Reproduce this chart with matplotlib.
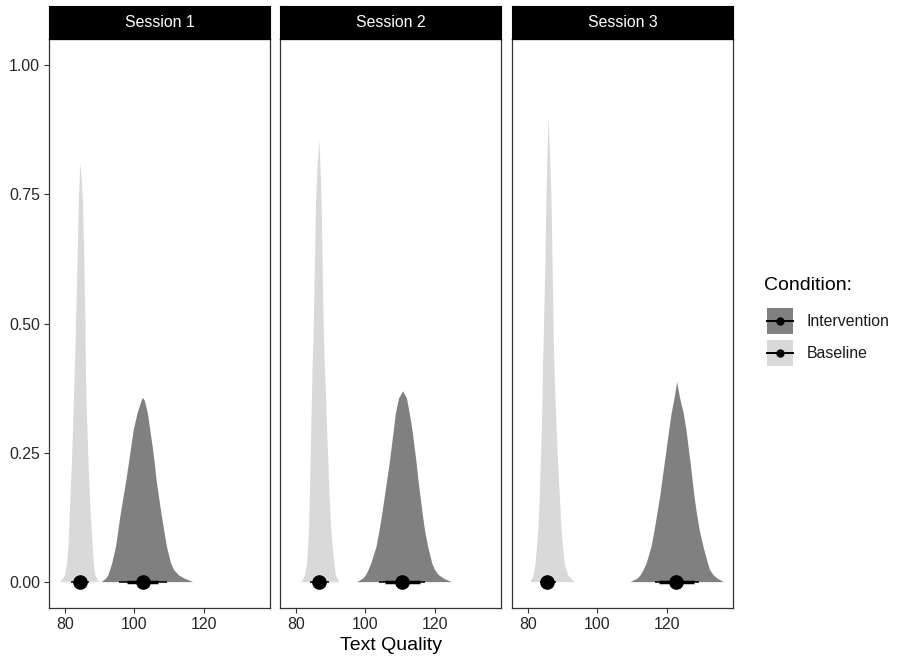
import matplotlib.pyplot as plt
from matplotlib.patches import Rectangle

plt.rcParams['font.family'] = ['Liberation Sans', 'DejaVu Sans']

sessions = ["Session 1", "Session 2", "Session 3"]
conditions = ["Intervention", "Baseline"]
fill_colors = {"Intervention": "#808080", "Baseline": "#d9d9d9"}

# density outlines: height levels and the left / right
# edge (text quality) of each curve at those levels, last level = peak
base_common = [0, 0.007, 0.0135, 0.023, 0.036, 0.068, 0.10, 0.165, 0.229, 0.293, 0.358, 0.422, 0.486, 0.61, 0.737]
base_levels = [
    base_common + [0.782, 0.811],
    base_common + [0.80, 0.855],
    base_common + [0.82, 0.90],
]
base_left = [
    [78.55, 79.5, 80.0, 80.3, 80.6, 81.0, 81.2, 81.6, 82.0, 82.3, 82.6, 82.9, 83.15, 83.6, 84.0, 84.25, 84.4],
    [81.4, 82.2, 82.6, 82.9, 83.2, 83.5, 83.75, 84.0, 84.2, 84.4, 84.6, 84.8, 85.1, 85.45, 85.8, 86.2, 86.75],
    [80.7, 81.3, 81.65, 81.9, 82.2, 82.6, 83.0, 83.4, 83.7, 84.0, 84.2, 84.35, 84.6, 85.0, 85.3, 85.6, 85.9],
]
base_right = [
    [89.8, 89.2, 88.8, 88.5, 88.3, 88.0, 87.7, 87.2, 86.8, 86.5, 86.2, 86.0, 85.95, 85.6, 85.2, 84.8, 84.4],
    [92.5, 91.9, 91.5, 91.3, 91.1, 90.6, 90.2, 89.7, 89.35, 89.0, 88.7, 88.3, 88.0, 87.7, 87.4, 87.1, 86.75],
    [93.5, 92.4, 91.6, 91.1, 90.6, 90.1, 89.7, 89.2, 88.7, 88.3, 87.9, 87.6, 87.4, 87.1, 86.8, 86.4, 85.9],
]

int_common = [0, 0.007, 0.0135, 0.023, 0.036, 0.068, 0.10, 0.133, 0.165, 0.197, 0.229, 0.261, 0.293, 0.326]
int_levels = [
    int_common + [0.351, 0.356],
    int_common + [0.355, 0.369],
    int_common + [0.357, 0.387],
]
int_left = [
    [90.6, 91.9, 92.5, 93.0, 93.6, 94.7, 95.4, 96.1, 96.9, 97.7, 98.4, 99.1, 99.8, 100.9, 102.1, 102.5],
    [97.6, 99.4, 100.2, 100.9, 101.7, 103.2, 104.1, 104.9, 105.6, 106.3, 107.0, 107.6, 108.2, 108.8, 109.7, 110.9],
    [109.6, 111.6, 112.5, 113.3, 114.2, 115.6, 116.5, 117.3, 118.1, 118.75, 119.4, 120.05, 120.7, 121.4, 122.3, 123.0],
]
int_right = [
    [117.0, 114.4, 112.8, 111.5, 110.6, 109.4, 108.6, 107.8, 107.1, 106.4, 105.9, 105.3, 104.6, 103.9, 103.0, 102.5],
    [124.9, 122.6, 121.2, 120.1, 119.3, 118.1, 117.2, 116.5, 115.9, 115.3, 114.8, 114.2, 113.6, 112.8, 112.0, 110.9],
    [136.5, 134.6, 133.5, 132.5, 131.9, 130.6, 129.5, 128.7, 128.0, 127.45, 126.9, 126.3, 125.7, 124.9, 123.8, 123.0],
]

# point intervals: median, 66% and 95% intervals
base_med = [84.2, 86.6, 85.6]
base_lo66 = [82.9, 85.1, 84.4]
base_hi66 = [85.6, 88.2, 87.0]
base_lo95 = [81.6, 84.1, 83.4]
base_hi95 = [86.8, 89.5, 88.0]
int_med = [102.4, 110.6, 122.8]
int_lo66 = [98.0, 105.7, 117.8]
int_hi66 = [106.9, 115.8, 128.0]
int_lo95 = [95.7, 104.0, 116.6]
int_hi95 = [109.3, 117.2, 129.4]

x_ticks = [80, 100, 120]
y_ticks = [0.0, 0.25, 0.50, 0.75, 1.00]

W, H = 898, 658
fig = plt.figure(figsize=(W / 100, H / 100), dpi=100)


def frac(x0, y0, w, h):
    return [x0 / W, 1 - (y0 + h) / H, w / W, h / H]


def outline(levels, left, right):
    # closed shape: up the left edge, down the right edge
    return left + right[::-1], levels + levels[::-1]


lefts = [49, 280, 512]
border = "#333333"

for i, name in enumerate(sessions):
    ax = fig.add_axes(frac(lefts[i], 39, 221, 569))
    bx, by = outline(base_levels[i], base_left[i], base_right[i])
    ix, iy = outline(int_levels[i], int_left[i], int_right[i])
    ax.fill(bx, by, color=fill_colors["Baseline"], lw=0)
    ax.fill(ix, iy, color=fill_colors["Intervention"], lw=0)
    for lo95, hi95, lo66, hi66, med in [
        (base_lo95[i], base_hi95[i], base_lo66[i], base_hi66[i], base_med[i]),
        (int_lo95[i], int_hi95[i], int_lo66[i], int_hi66[i], int_med[i]),
    ]:
        ax.plot([lo95, hi95], [0, 0], color="black", lw=1.1, solid_capstyle="butt", zorder=3)
        ax.plot([lo66, hi66], [0, 0], color="black", lw=2.5, solid_capstyle="butt", zorder=3)
        ax.plot([med], [0], "o", color="black", ms=9.5, zorder=4)
    ax.set_xlim(75.4, 139.1)
    ax.set_ylim(-0.05, 1.05)
    ax.set_xticks(x_ticks)
    ax.set_xticklabels([str(t) for t in x_ticks])
    if i == 0:
        ax.set_yticks(y_ticks)
        ax.set_yticklabels([f"{t:.2f}" for t in y_ticks])
    else:
        ax.set_yticks([])
    ax.tick_params(axis="both", length=3.5, width=0.8, color=border,
                   labelsize=11.4, labelcolor="#262626", pad=3)
    for sp in ax.spines.values():
        sp.set_color(border)
        sp.set_linewidth(0.9)

    strip = fig.add_axes(frac(lefts[i], 6, 221, 33))
    strip.set_facecolor("black")
    strip.set_xticks([])
    strip.set_yticks([])
    for sp in strip.spines.values():
        sp.set_color("black")
    strip.text(0.5, 0.5, name, color="white", fontsize=11.4,
               ha="center", va="center", transform=strip.transAxes)

fig.text(390.5 / W, 1 - 646 / H, "Text Quality", fontsize=14,
         ha="center", va="center", color="black")

# legend drawn in pixel coordinates
leg = fig.add_axes([0, 0, 1, 1])
leg.set_xlim(0, W)
leg.set_ylim(H, 0)
leg.axis("off")
leg.text(764, 286, "Condition:", fontsize=14, ha="left", va="center")
for k, cond in enumerate(conditions):
    top = 308 + k * 32
    leg.add_patch(Rectangle((767, top), 26, 26, facecolor=fill_colors[cond], lw=0))
    leg.plot([767, 793], [top + 13, top + 13], color="black", lw=1.4)
    leg.plot([780], [top + 13], "o", color="black", ms=5)
    leg.text(807, top + 13, cond, fontsize=11.4, ha="left", va="center", color="#1a1a1a")

fig.savefig("out.png", dpi=100)
